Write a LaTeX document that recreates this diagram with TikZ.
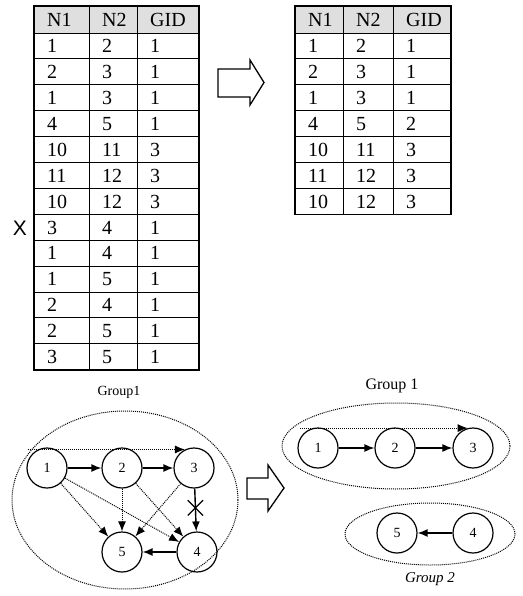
\documentclass[tikz,border=0pt]{standalone}
\usepackage{fontspec}
\setmainfont{Liberation Serif}
\newfontfamily\xsans{Liberation Sans}
\usetikzlibrary{arrows.meta,shapes.misc}
\begin{document}
\begin{tikzpicture}[x=1pt,y=-1pt,
  gnode/.style={circle,draw,line width=1.2pt,minimum size=40pt,inner sep=0pt,font=\fontsize{14}{16}\selectfont},
  solidedge/.style={line width=1.4pt,-{Latex[length=10pt,width=8pt]}},
  dotedge/.style={line width=1pt,densely dotted,-{Latex[length=10pt,width=8pt]}},
  grp/.style={line width=1pt,densely dotted},
  cell/.style={anchor=base west,inner sep=0pt,font=\fontsize{20}{24}\selectfont},
  inner/.style={line width=0.9pt},
  outer/.style={line width=1.6pt},
  hollow/.style={line width=1.3pt,fill=white,line join=miter},
]
\useasboundingbox (0,0) rectangle (522,596);

% ---------- left table ----------
\fill[gray!25] (34,6) rectangle (199,33);
\foreach \k in {1,...,12} \draw[inner] (34,{33+25.9*\k}) -- (199,{33+25.9*\k});
\draw[inner] (34,33) -- (199,33);
\draw[inner] (89,6) -- (89,369.7);
\draw[inner] (137,6) -- (137,369.7);
\draw[outer] (34,6) rectangle (199,369.7);
\node[cell] (lh1) at (47,26.5) {N1};
\node[cell] (lh2) at (102,26.5) {N2};
\node[cell] (lh3) at (150,26.5) {GID};
\foreach \a/\b/\c [count=\k] in {1/2/1,2/3/1,1/3/1,4/5/1,10/11/3,11/12/3,10/12/3,3/4/1,1/4/1,1/5/1,2/4/1,2/5/1,3/5/1} {
  \pgfmathsetmacro\yb{33+25.9*(\k-1)+12.95+6.8}
  \node[cell] (la\k) at (47,\yb) {\a};
  \node[cell] (lb\k) at (102,\yb) {\b};
  \node[cell] (lc\k) at (150,\yb) {\c};
}
\node[font=\xsans\fontsize{21}{24}\selectfont,inner sep=0pt] (xrow) at (20,228) {X};
\node[font=\fontsize{14}{16}\selectfont,inner sep=0pt] (glab1) at (119,392) {Group1};

% ---------- top hollow arrow ----------
\draw[hollow] (218,69) -- (250,69) -- (250,60) -- (264,82.5) -- (250,105) -- (250,97) -- (218,97) -- cycle;

% ---------- right table ----------
\fill[gray!25] (295,6) rectangle (451,33);
\foreach \k in {1,...,6} \draw[inner] (295,{33+25.9*\k}) -- (451,{33+25.9*\k});
\draw[inner] (295,33) -- (451,33);
\draw[inner] (343,6) -- (343,214.3);
\draw[inner] (393,6) -- (393,214.3);
\draw[outer] (295,6) rectangle (451,214.3);
\node[cell] (rh1) at (308,26.5) {N1};
\node[cell] (rh2) at (356,26.5) {N2};
\node[cell] (rh3) at (406,26.5) {GID};
\foreach \a/\b/\c [count=\k] in {1/2/1,2/3/1,1/3/1,4/5/2,10/11/3,11/12/3,10/12/3} {
  \pgfmathsetmacro\yb{33+25.9*(\k-1)+12.95+6.8}
  \node[cell] (ra\k) at (308,\yb) {\a};
  \node[cell] (rb\k) at (356,\yb) {\b};
  \node[cell] (rc\k) at (406,\yb) {\c};
}

% ---------- left graph ----------
\draw[grp] (125,500) ellipse [x radius=113pt, y radius=89pt];
\node[gnode] (n1) at (47,468) {1};
\node[gnode] (n2) at (122,468) {2};
\node[gnode] (n3) at (194,468) {3};
\node[gnode] (n5) at (122,552) {5};
\node[gnode] (n4) at (197,552) {4};
\draw[solidedge] (n1) -- (n2);
\draw[solidedge] (n2) -- (n3);
\draw[dotedge] (n1.160 |- n3.116) -- (n3.116);
\draw[dotedge] (n1) -- (n5);
\draw[dotedge] (n1) -- (n4);
\draw[dotedge] (n2) -- (n5);
\draw[dotedge] (n2) -- (n4);
\draw[dotedge] (n3) -- (n5);
\draw[solidedge] (n3) -- node[cross out,draw,line width=1.3pt,minimum size=14pt,inner sep=0pt,pos=0.45] (xm) {} (n4);
\draw[solidedge] (n4) -- (n5);

% ---------- bottom hollow arrow ----------
\draw[hollow] (247,478) -- (268,478) -- (268,465) -- (284,488) -- (268,511) -- (268,499) -- (247,499) -- cycle;

% ---------- right groups ----------
\node[font=\fontsize{16}{18}\selectfont,inner sep=0pt] (glab2) at (392,386) {Group 1};
\draw[grp] (396,446) ellipse [x radius=114pt, y radius=43pt];
\node[gnode] (m1) at (318,448) {1};
\node[gnode] (m2) at (395,448) {2};
\node[gnode] (m3) at (473,448) {3};
\draw[solidedge] (m1) -- (m2);
\draw[solidedge] (m2) -- (m3);
\draw[dotedge] (m1.150 |- m3.105) -- (m3.105);

\draw[grp] (430,534) ellipse [x radius=85pt, y radius=31pt];
\node[gnode] (g5) at (397,533) {5};
\node[gnode] (g4) at (473,533) {4};
\draw[solidedge] (g4) -- (g5);
\node[font=\itshape\fontsize{15}{17}\selectfont,inner sep=0pt] (glab3) at (430,579) {Group 2};
\end{tikzpicture}
\end{document}
